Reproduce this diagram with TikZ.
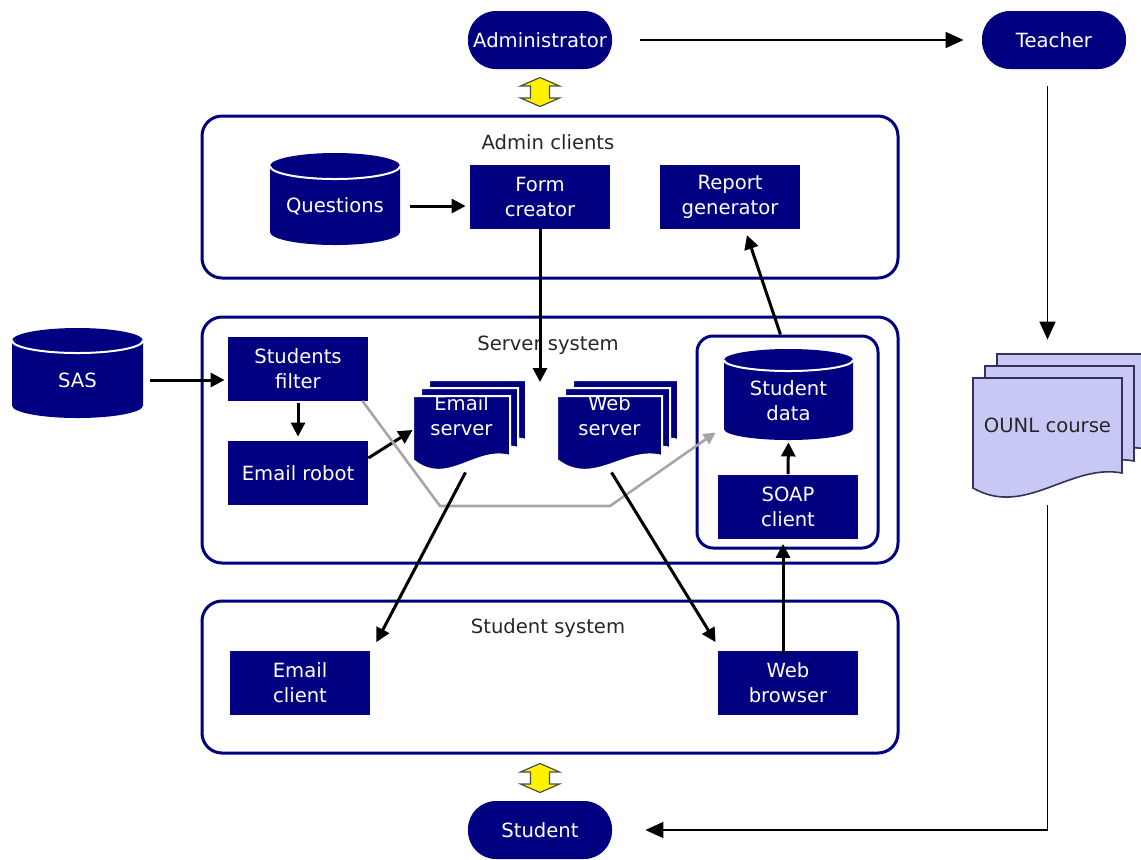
\documentclass[tikz,border=0pt]{standalone}
\usepackage{fontspec}
\setmainfont{DejaVu Sans}
\usetikzlibrary{arrows.meta}
\definecolor{navy}{RGB}{0,0,128}
\definecolor{lavender}{RGB}{200,200,245}
\definecolor{docline}{RGB}{50,50,90}

\begin{document}
\begin{tikzpicture}[x=0.5pt, y=-0.5pt,
  font=\fontsize{9.8}{12.5}\selectfont,
  pill/.style={fill=navy, text=white, rounded corners=14pt, minimum width=72pt, minimum height=29pt, inner sep=0pt},
  block/.style={fill=navy, text=white, minimum width=70pt, minimum height=32pt, align=center, inner sep=0pt},
  group/.style={draw=navy, line width=1.5pt, rounded corners=10pt},
  grouplabel/.style={text=black!85},
  dbtext/.style={text=white, align=center, inner sep=0pt},
  link/.style={-{Triangle[length=7pt,width=7pt]}, line width=1.5pt},
  thinlink/.style={-{Triangle[length=9pt,width=8pt]}, line width=0.8pt},
  grayline/.style={-{Triangle[length=6pt,width=6pt]}, line width=1.3pt, draw=black!35},
  bothway/.style={fill=yellow, draw=black!70, line width=0.6pt}]
        \useasboundingbox (0,0) rectangle (1141,859);

        % boxes
        \node[group, minimum width=348pt, minimum height=81pt] (adminbox) at (550,197) {};
        \node[group, minimum width=348pt, minimum height=123pt] (serverbox) at (550,440) {};
        \node[group, minimum width=348pt, minimum height=76pt] (studentbox) at (550,677) {};
        \node[group, rounded corners=8pt, minimum width=90.5pt, minimum height=106pt] (databox) at (787.5,442) {};
        \node[grouplabel] (adminlabel) at (548,142) {Admin clients};
        \node[grouplabel] (serverlabel) at (548,345) {Server system};
        \node[grouplabel] (studentlabel) at (548,628) {Student system};

        % databases
        \foreach \l/\r/\t/\b/\a/\e in {270/400/166/232/32.5/6.5, 12/143/340.5/405.5/32.75/6.25, 724/853/360/429/32.25/5.5} {
          \fill[navy] (\l,\t) arc[start angle=180, end angle=0, x radius=\a pt, y radius=\e pt]
            -- (\r,\b) arc[start angle=0, end angle=-180, x radius=\a pt, y radius=\e pt] -- cycle;
          \draw[white, line width=1pt] (\l,\t) arc[start angle=180, end angle=360, x radius=\a pt, y radius=\e pt];
        }

        % documents
        \foreach \d in {16,8,0}
          \filldraw[fill=navy, draw=white, line width=1pt, shift={(413+\d,396-\d)}]
            (0,0) -- (97,0) -- (97,60) .. controls (63,50) and (34,92) .. (0,64) -- cycle;
        \foreach \d in {16,8,0}
          \filldraw[fill=navy, draw=white, line width=1pt, shift={(557+\d,396-\d)}]
            (0,0) -- (105,0) -- (105,60) .. controls (68,50) and (37,92) .. (0,64) -- cycle;
        \foreach \d in {24,12,0}
          \filldraw[fill=lavender, draw=docline, line width=0.8pt, shift={(973+\d,378-\d)}]
            (0,0) -- (149,0) -- (149,95) .. controls (97,85) and (52,140) .. (0,110) -- cycle;

        % nodes
        \node[pill] (admin) at (540,40) {Administrator};
        \node[pill] (teacher) at (1054,40) {Teacher};
        \node[pill] (student) at (540,830) {Student};
        \node[dbtext, minimum width=65pt] (q) at (335,206) {Questions};
        \node[block] (form) at (540,197) {Form\\creator};
        \node[block] (report) at (730,197) {Report\\generator};
        \node[dbtext, minimum width=65.5pt] (sas) at (77.5,380) {SAS};
        \node[block] (filter) at (298,368.5) {Students\\filter};
        \node[block] (robot) at (298,473) {Email robot};
        \node[dbtext, minimum width=48.5pt, minimum height=40pt] (es) at (461.5,416) {Email\\server};
        \node[dbtext, minimum width=52.5pt, minimum height=40pt] (ws) at (609.5,416) {Web\\server};
        \node[dbtext, minimum width=64.5pt, minimum height=39pt] (sd) at (788.5,401) {Student\\data};
        \node[block] (soap) at (788,506.5) {SOAP\\client};
        \node[block] (ec) at (300,682.5) {Email\\client};
        \node[block] (wb) at (788,682.5) {Web\\browser};
        \node[dbtext, text=black!85, minimum width=74.5pt, minimum height=47pt] (oc) at (1047.5,425) {OUNL course};
        \coordinate (formend) at (540,382);

        % yellow arrows
        \filldraw[bothway, shift={(540,92)}] (-9.5,-6) -- (-19.5,-6) -- (0,-14.5) -- (19.5,-6) -- (9.5,-6)
          -- (9.5,6) -- (19.5,6) -- (0,14.5) -- (-19.5,6) -- (-9.5,6) -- cycle;
        \filldraw[bothway, shift={(540,778)}] (-9.5,-6) -- (-19.5,-6) -- (0,-14.5) -- (19.5,-6) -- (9.5,-6)
          -- (9.5,6) -- (19.5,6) -- (0,14.5) -- (-19.5,6) -- (-9.5,6) -- cycle;

        % connectors
        \draw[thinlink, shorten <=14pt, shorten >=9pt] (admin) -- (teacher);
        \draw[thinlink, shorten <=8.5pt, shorten >=19pt] (teacher.south -| oc.north) -- (oc.north);
        \draw[thinlink, shorten <=16.5pt, shorten >=16.5pt] (oc.south) |- (student);
        \draw[link, shorten <=5pt, shorten >=2pt] (q.east) -- (q.east -| form.west);
        \draw[link] (form.south) -- (formend);
        \draw[link, shorten >=3pt] ([xshift=-3.5pt]databox.north) -- ([xshift=7.5pt]report.south);
        \draw[link, shorten <=3.5pt, shorten >=1.5pt] (sas.east) -- (sas.east -| filter.west);
        \draw[link, shorten <=1pt, shorten >=2pt] (filter.south) -- (robot.north);
        \draw[link] ([yshift=7.5pt]robot.east) -- ([yshift=-7pt]es.west);
        \draw[grayline] ([xshift=-3pt]filter.south east) -- (440,506) -- (610,506) -- ([shift={(-4pt,4pt)}]sd.south west);
        \draw[link] ([shift={(2pt,-8pt)}]es.south) -- ([shift={(3pt,4pt)}]ec.north east);
        \draw[link] ([shift={(1pt,-8pt)}]ws.south) -- ([shift={(-1pt,4pt)}]wb.north west);
        \draw[link, shorten <=-1.5pt, shorten >=2.5pt] ([xshift=-2.5pt]wb.north) -- ([xshift=-2.5pt]soap.south);
        \draw[link, shorten >=1pt] (soap.north) -- (sd.south);
\end{tikzpicture}
\end{document}
